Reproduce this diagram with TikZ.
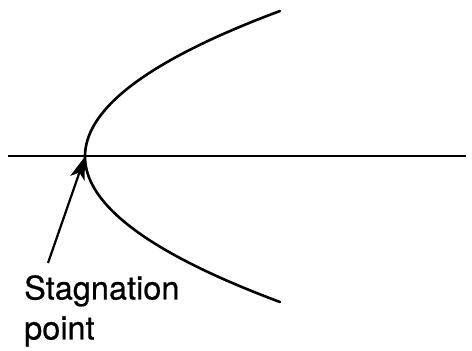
\documentclass[tikz,border=0pt]{standalone}
\usepackage{fontspec}
\setmainfont{TeX Gyre Heros}[FakeBold=0.6]
\usetikzlibrary{arrows.meta,positioning}
\tikzset{
  flowline/.style={line width=2.6pt, draw=black},
  stagarrow/.style={-{Stealth[length=23pt,width=15pt,inset=6pt]}, line width=2.2pt, draw=black},
  stagtext/.style={font=\fontsize{32.5}{40}\selectfont, align=left, inner sep=0pt}
}
\begin{document}
\begin{tikzpicture}[x=1pt,y=1pt]
  \useasboundingbox (0,0) rectangle (472,351);

  % axis line
  \coordinate (axisL) at (8,195);
  \coordinate (axisR) at (466,195);
  \draw[flowline] (axisL) -- (axisR);

  % body contour
  \coordinate (stag) at (85,194.5);
  \draw[flowline, line cap=round] plot[domain=-1.455:1.455, samples=80, smooth] ({85+92.1*\x*\x},{194.5+100*\x});

  % label
  \node[stagtext, anchor=north west] (label) at (24,76) {Stagnation\\point};
  \coordinate (tail) at (48,88);
  \draw[stagarrow] (tail) -- (stag);

\end{tikzpicture}
\end{document}
